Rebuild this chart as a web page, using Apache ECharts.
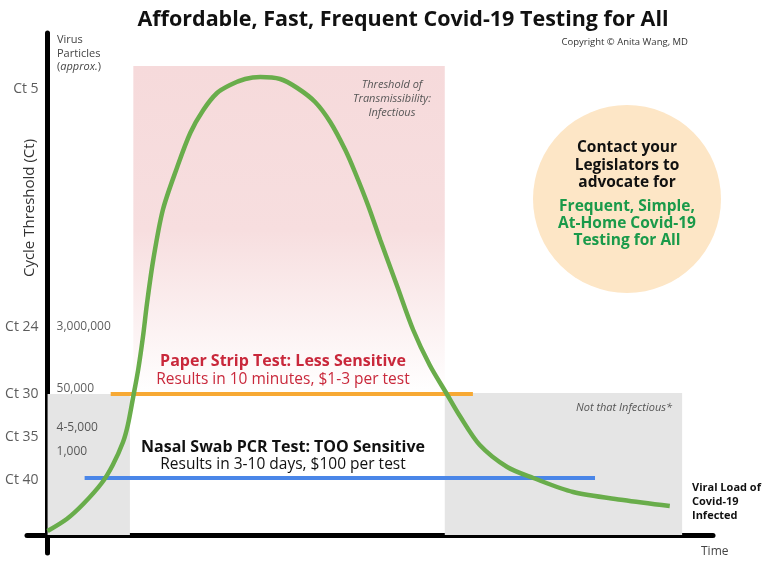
<!DOCTYPE html>
<html>
<head>
<meta charset="utf-8">
<script src="https://cdn.jsdelivr.net/npm/echarts@6/dist/echarts.min.js"></script>
<style>html,body{margin:0;padding:0;background:#fff}#c{width:768px;height:566px}</style>
</head>
<body>
<div id="c"></div>
<script>
// Viral load curve (time in arbitrary units, load in arbitrary units)
var timeVals = [0, 2.8, 5.2, 7.9, 9.5, 11.0, 11.7, 12.45, 13.2, 13.9, 14.5, 15.4, 16.8, 18.9, 20.8, 22.7, 24.7, 26.6, 28.8, 31.0, 33.9, 36.4, 39.0, 41.2, 43.4, 44.8, 46.7, 48.5, 50.9, 53.3, 55.7, 58.2, 60.1, 63.0, 67.0, 70.8, 76.6, 83.9, 90.7];
var viralLoad = [4, 16, 31, 52, 70, 93, 110, 137, 165, 198, 232, 275, 325, 368, 402, 425, 442, 450, 456, 458, 456, 447, 433, 413, 385, 363, 330, 295, 250, 205, 170, 141, 119, 90, 68, 57, 43, 35, 29];

// Cycle-threshold tick labels
var ctLabels = ['Ct 5', 'Ct 24', 'Ct 30', 'Ct 35', 'Ct 40'];
var ctLevels = [446, 208, 141, 98, 55];

// Virus particle labels
var particleLabels = ['3,000,000', '50,000', '4-5,000', '1,000'];
var particleLevels = [208, 146, 107, 83];

// Test thresholds: [startTime, endTime, level]
var paperStrip = [9.2, 62.0, 141];
var pcrTest = [5.4, 79.8, 57];

// Zones
var infectiousZone = [12.5, 57.9, 141, 469];
var lowZoneLeft = [0, 12.0, 0, 141];
var lowZoneRight = [57.9, 92.5, 0, 142];

var FONT = '"Open Sans", Lato, sans-serif';
var chart = echarts.init(document.getElementById('c'));

function txt(x, y, text, o) {
  o = o || {};
  return {
    type: 'text', x: x, y: y, z: 100, rotation: o.rotation || 0,
    style: {
      text: text, fill: o.color || '#333', fontSize: o.size || 12,
      fontWeight: o.bold ? 'bold' : 'normal', fontStyle: o.italic ? 'italic' : 'normal',
      fontFamily: FONT, align: o.align || 'left', verticalAlign: 'middle',
      lineHeight: o.lh, rich: o.rich
    }
  };
}

var option = {
  animation: false,
  grid: { left: 27, right: 55, top: 33, bottom: 13, containLabel: false, outerBoundsMode: 'none' },
  xAxis: {
    type: 'value', min: -3, max: 97,
    axisLine: { onZero: true, lineStyle: { color: '#000', width: 5 } },
    axisTick: { show: false }, axisLabel: { show: false }, splitLine: { show: false }
  },
  yAxis: {
    type: 'value', min: -18, max: 502,
    axisLine: { onZero: true, lineStyle: { color: '#000', width: 5 } },
    axisTick: { show: false }, splitLine: { show: false }, axisLabel: { show: false }
  },
  series: [
    {
      type: 'line', name: 'Viral Load', smooth: 0.3, showSymbol: false, z: 5,
      data: timeVals.map(function (t, i) { return [t, viralLoad[i]]; }),
      lineStyle: { color: '#69ad4b', width: 4.5 },
      markArea: {
        silent: true,
        data: [
          [{ coord: [infectiousZone[0], infectiousZone[3]], itemStyle: {
              color: new echarts.graphic.LinearGradient(0, 0, 0, 1, [
                { offset: 0, color: '#f6dadb' }, { offset: 0.5, color: '#f7dedf' }, { offset: 1, color: '#ffffff' }
              ]) } },
           { coord: [infectiousZone[1], infectiousZone[2]] }],
          [{ coord: [lowZoneLeft[0], lowZoneLeft[3]], itemStyle: { color: '#e5e5e5' } },
           { coord: [lowZoneLeft[1], lowZoneLeft[2]] }],
          [{ coord: [lowZoneRight[0], lowZoneRight[3]], itemStyle: { color: '#e5e5e5' } },
           { coord: [lowZoneRight[1], lowZoneRight[2]] }]
        ]
      },
      markLine: {
        silent: true, symbol: 'none', label: { show: false },
        data: [
          [{ coord: [paperStrip[0], paperStrip[2]], lineStyle: { color: '#f7a934', width: 4, type: 'solid' } },
           { coord: [paperStrip[1], paperStrip[2]] }],
          [{ coord: [pcrTest[0], pcrTest[2]], lineStyle: { color: '#4a86e8', width: 4, type: 'solid' } },
           { coord: [pcrTest[1], pcrTest[2]] }]
        ]
      }
    },
    {
      type: 'scatter', name: 'Ct', symbolSize: 0, silent: true, z: 6,
      data: ctLevels.map(function (v, i) { return [0, v, ctLabels[i]]; }),
      label: {
        show: true, position: 'left', distance: 9, fontSize: 14, color: '#333', fontFamily: FONT,
        formatter: function (p) { return p.value[2]; }
      }
    },
    {
      type: 'scatter', name: 'Particles', symbolSize: 0, silent: true, z: 6,
      data: particleLevels.map(function (v, i) { return [0, v, particleLabels[i]]; }),
      label: {
        show: true, position: 'right', distance: 9, fontSize: 12, color: '#333', fontFamily: FONT,
        formatter: function (p) { return p.value[2]; }
      }
    }
  ],
  graphic: [
    { type: 'circle', shape: { cx: 627, cy: 199, r: 94 }, style: { fill: '#fde6c6' }, z: 50 },
    txt(403, 20, 'Affordable, Fast, Frequent Covid-19 Testing for All', { size: 21.5, bold: true, color: '#111', align: 'center' }),
    txt(688, 42, 'Copyright © Anita Wang, MD', { size: 9.5, color: '#333', align: 'right' }),
    txt(57, 40, 'Virus', { size: 11, color: '#444' }),
    txt(57, 54, 'Particles', { size: 11, color: '#444' }),
    txt(57, 67, '({i|approx.})', { size: 11, color: '#444', rich: { i: { fontStyle: 'italic', fontSize: 11, fill: '#444', fontFamily: FONT } } }),
    txt(30, 208, 'Cycle Threshold (Ct)', { size: 15, color: '#333', align: 'center', rotation: Math.PI / 2 }),
    txt(392, 85, 'Threshold of', { size: 11, italic: true, color: '#555', align: 'center' }),
    txt(392, 99, 'Transmissibility:', { size: 11, italic: true, color: '#555', align: 'center' }),
    txt(392, 113, 'Infectious', { size: 11, italic: true, color: '#555', align: 'center' }),
    txt(672, 408, 'Not that Infectious*', { size: 11, italic: true, color: '#555', align: 'right' }),
    txt(283, 361, 'Paper Strip Test: Less Sensitive', { size: 16, bold: true, color: '#c9283b', align: 'center' }),
    txt(283, 380, 'Results in 10 minutes, $1-3 per test', { size: 15.5, color: '#c9283b', align: 'center' }),
    txt(283, 447, 'Nasal Swab PCR Test: TOO Sensitive', { size: 16, bold: true, color: '#111', align: 'center' }),
    txt(283, 465, 'Results in 3-10 days, $100 per test', { size: 15.5, color: '#111', align: 'center' }),
    txt(627, 148, 'Contact your', { size: 15.5, bold: true, color: '#111', align: 'center' }),
    txt(627, 166, 'Legislators to', { size: 15.5, bold: true, color: '#111', align: 'center' }),
    txt(627, 183, 'advocate for', { size: 15.5, bold: true, color: '#111', align: 'center' }),
    txt(627, 207, 'Frequent, Simple,', { size: 15.5, bold: true, color: '#1a9a4a', align: 'center' }),
    txt(627, 224, 'At-Home Covid-19', { size: 15.5, bold: true, color: '#1a9a4a', align: 'center' }),
    txt(627, 241, 'Testing for All', { size: 15.5, bold: true, color: '#1a9a4a', align: 'center' }),
    txt(692, 488, 'Viral Load of', { size: 11, bold: true, color: '#111' }),
    txt(692, 502, 'Covid-19', { size: 11, bold: true, color: '#111' }),
    txt(692, 516, 'Infected', { size: 11, bold: true, color: '#111' }),
    txt(701, 552, 'Time', { size: 12, color: '#444' })
  ]
};
chart.setOption(option);
</script>
</body>
</html>
